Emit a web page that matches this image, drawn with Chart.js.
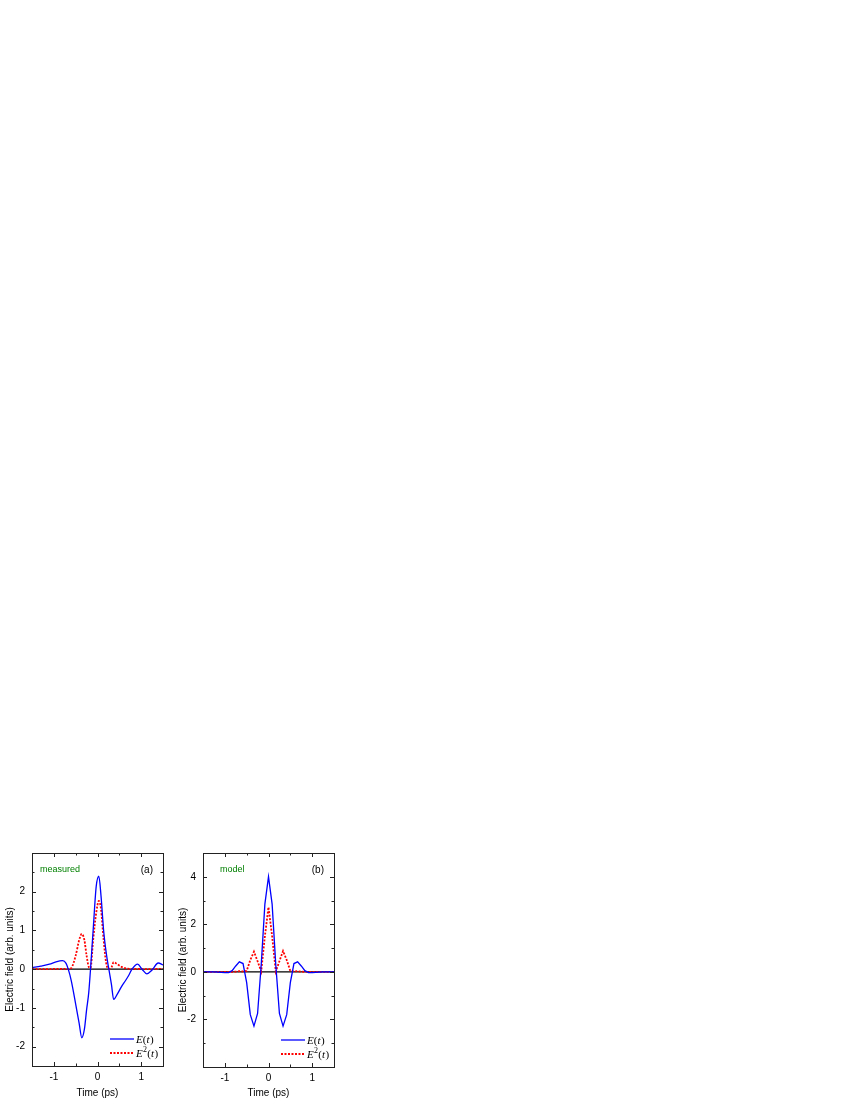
<!DOCTYPE html>
<html>
<head>
<meta charset="utf-8">
<script src="https://cdn.jsdelivr.net/npm/chart.js@4"></script>
<style>
  body { margin: 0; background: #fff; }
  #page { position: relative; width: 850px; height: 1100px; }
  canvas { position: absolute; }
</style>
</head>
<body>
<div id="page">
  <canvas id="panel-a" width="170" height="260" style="left:0;top:840px"></canvas>
  <canvas id="panel-b" width="170" height="260" style="left:170px;top:840px"></canvas>
</div>
<script>
// Panel (a): measured field, time in ps
const timesA = [-1.5, -1.3, -1.1, -0.95, -0.8, -0.72, -0.67, -0.6, -0.5, -0.42, -0.36, -0.3, -0.25, -0.2, -0.16,
  -0.1, -0.03, 0.03, 0.08, 0.14, 0.2, 0.26, 0.32, 0.37, 0.45, 0.55, 0.65, 0.72, 0.79, 0.92, 1.02, 1.13, 1.25, 1.39, 1.5];
const fieldA = [0.04, 0.08, 0.13, 0.19, 0.22, 0.15, 0, -0.3, -0.9, -1.4, -1.77, -1.55, -1.05, -0.6, 0,
  1.0, 2.13, 2.4, 1.9, 1.0, 0.42, 0, -0.4, -0.78, -0.65, -0.45, -0.28, -0.15, 0, 0.13, 0, -0.12, -0.02, 0.16, 0.11];
const squareA = [0, 0, 0, 0.01, 0.01, 0.01, 0, 0.03, 0.35, 0.75, 0.91, 0.75, 0.35, 0.06, 0.03,
  0.75, 1.45, 1.76, 1.55, 0.76, 0.15, 0.01, 0.05, 0.18, 0.13, 0.06, 0.02, 0.01, 0, 0.01, 0, 0, 0, 0.01, 0];

// Panel (b): model field
const timesB = [-1.5, -1.25, -1.0, -0.917, -0.833, -0.75, -0.667, -0.583, -0.5, -0.417, -0.333, -0.25, -0.167, -0.083,
  0, 0.083, 0.167, 0.25, 0.333, 0.417, 0.5, 0.583, 0.667, 0.75, 0.833, 0.917, 1.0, 1.25, 1.5];
const fieldB = [0, 0, -0.03, -0.03, 0.05, 0.25, 0.42, 0.35, -0.45, -1.8, -2.28, -1.75, 0.3, 2.85,
  4.0, 2.85, 0.3, -1.75, -2.28, -1.8, -0.45, 0.35, 0.42, 0.25, 0.05, -0.03, -0.03, 0, 0];
const squareB = [0, 0, 0, 0, 0, 0.01, 0.03, 0.02, 0.04, 0.5, 0.85, 0.45, 0.02, 1.5,
  2.72, 1.5, 0.02, 0.45, 0.88, 0.5, 0.04, 0.02, 0.03, 0.01, 0, 0, 0, 0, 0];

const BLUE = '#0000ff';
const RED = '#ff0000';
const GREEN = '#008000';
const FONT = '"Liberation Sans", Arial, sans-serif';
const SERIF = '"Liberation Serif", "Times New Roman", serif';

function isMajor(v, step) {
  const q = v / step;
  return Math.abs(q - Math.round(q)) < 1e-6;
}

// Zero line, boxed frame with inward ticks, panel tags and legend
const framePlugin = {
  id: 'frame',
  beforeDatasetsDraw(chart) {
    const { ctx, chartArea: a, scales: { y } } = chart;
    const y0 = y.getPixelForValue(0);
    ctx.save();
    ctx.strokeStyle = '#000';
    ctx.lineWidth = 1.2;
    ctx.beginPath();
    ctx.moveTo(a.left, y0);
    ctx.lineTo(a.right, y0);
    ctx.stroke();
    ctx.restore();
  },
  afterDraw(chart, args, opts) {
    const { ctx, chartArea: a, scales: { x, y } } = chart;
    ctx.save();
    ctx.strokeStyle = '#222';
    ctx.lineWidth = 1;
    ctx.strokeRect(Math.round(a.left) + 0.5, Math.round(a.top) + 0.5,
      Math.round(a.right - a.left), Math.round(a.bottom - a.top));

    ctx.beginPath();
    x.ticks.forEach(t => {
      const px = Math.round(x.getPixelForValue(t.value)) + 0.5;
      const len = isMajor(t.value, 1) ? 4 : 2.5;
      ctx.moveTo(px, a.bottom); ctx.lineTo(px, a.bottom - len);
      ctx.moveTo(px, a.top); ctx.lineTo(px, a.top + len);
    });
    y.ticks.forEach(t => {
      const py = Math.round(y.getPixelForValue(t.value)) + 0.5;
      const len = isMajor(t.value, opts.yMajor) ? 4 : 2.5;
      ctx.moveTo(a.left, py); ctx.lineTo(a.left + len, py);
      ctx.moveTo(a.right, py); ctx.lineTo(a.right - len, py);
    });
    ctx.stroke();

    // panel tags
    ctx.textBaseline = 'middle';
    ctx.fillStyle = GREEN;
    ctx.font = '9px ' + FONT;
    ctx.textAlign = 'left';
    ctx.fillText(opts.label, a.left + opts.labelOffset, a.top + 17);
    ctx.fillStyle = '#000';
    ctx.font = '10px ' + FONT;
    ctx.textAlign = 'right';
    ctx.fillText(opts.tag, a.right - 10, a.top + 17);

    // legend
    const lx0 = a.right - 53, lx1 = a.right - 29, tx = a.right - 27;
    const rows = [
      { y: a.bottom - 27, color: BLUE, dash: [], width: 1.3, sup: '' },
      { y: a.bottom - 13, color: RED, dash: [2, 1.5], width: 1.8, sup: '2' }
    ];
    rows.forEach(r => {
      ctx.strokeStyle = r.color;
      ctx.lineWidth = r.width;
      ctx.setLineDash(r.dash);
      ctx.beginPath();
      ctx.moveTo(lx0, r.y);
      ctx.lineTo(lx1, r.y);
      ctx.stroke();
      ctx.setLineDash([]);
      ctx.fillStyle = '#000';
      ctx.textAlign = 'left';
      ctx.textBaseline = 'alphabetic';
      const base = r.y + 4;
      let cx = tx;
      ctx.font = 'italic 11px ' + SERIF;
      ctx.fillText('E', cx, base);
      cx += ctx.measureText('E').width;
      if (r.sup) {
        ctx.font = '8px ' + SERIF;
        ctx.fillText(r.sup, cx + 0.3, base - 5);
        cx += ctx.measureText(r.sup).width + 0.5;
      }
      ctx.font = '11px ' + SERIF;
      ctx.fillText('(', cx, base);
      cx += ctx.measureText('(').width;
      ctx.font = 'italic 11px ' + SERIF;
      ctx.fillText('t', cx, base);
      cx += ctx.measureText('t').width + 0.5;
      ctx.font = '11px ' + SERIF;
      ctx.fillText(')', cx, base);
    });
    ctx.restore();
  }
};

function makePanel(id, times, field, square, cfg) {
  const pts = vals => times.map((t, i) => ({ x: t, y: vals[i] }));
  return new Chart(document.getElementById(id), {
    type: 'line',
    data: {
      datasets: [
        {
          label: 'E(t)',
          data: pts(field),
          borderColor: BLUE,
          borderWidth: 1.3,
          pointRadius: 0,
          tension: cfg.tension,
          cubicInterpolationMode: cfg.tension ? 'monotone' : 'default'
        },
        {
          label: 'E²(t)',
          data: pts(square),
          borderColor: RED,
          borderWidth: 1.8,
          borderDash: [2, 1.5],
          pointRadius: 0,
          tension: cfg.tension,
          cubicInterpolationMode: cfg.tension ? 'monotone' : 'default'
        }
      ]
    },
    options: {
      responsive: false,
      animation: false,
      events: [],
      layout: { padding: { top: 9, right: cfg.padRight, left: 0, bottom: 0 } },
      plugins: {
        legend: { display: false },
        tooltip: { enabled: false },
        frame: { tag: cfg.tag, label: cfg.label, labelOffset: cfg.labelOffset, yMajor: cfg.yMajor }
      },
      scales: {
        x: {
          type: 'linear',
          min: -1.5,
          max: 1.5,
          grid: { display: false, drawTicks: false },
          border: { display: false },
          ticks: {
            stepSize: 0.5,
            padding: 5,
            maxRotation: 0,
            autoSkip: false,
            color: '#000',
            font: { size: 10, family: FONT },
            callback: v => isMajor(v, 1) ? String(Math.round(v)) : ''
          },
          title: {
            display: true,
            text: 'Time (ps)',
            color: '#000',
            font: { size: 10, family: FONT },
            padding: { top: 0, bottom: 1 }
          },
          afterFit: s => { s.height = cfg.xHeight; }
        },
        y: {
          min: cfg.yMin,
          max: cfg.yMax,
          grid: { display: false, drawTicks: false },
          border: { display: false },
          ticks: {
            stepSize: cfg.yStep,
            padding: 7,
            autoSkip: false,
            color: '#000',
            font: { size: 10, family: FONT },
            // no labels on the frame edges
            callback: v => (isMajor(v, cfg.yMajor) && v > cfg.yMin && v < cfg.yMax) ? String(Math.round(v)) : ''
          },
          title: {
            display: true,
            text: 'Electric field (arb. units)',
            color: '#000',
            font: { size: 10, family: FONT },
            padding: { top: cfg.titlePad, bottom: 0 }
          },
          afterFit: s => { s.width = cfg.yWidth; }
        }
      }
    },
    plugins: [framePlugin]
  });
}

makePanel('panel-a', timesA, fieldA, squareA, {
  tag: '(a)', label: 'measured', labelOffset: 8, tension: 0.35,
  yMin: -2.5, yMax: 3, yStep: 0.5, yMajor: 1,
  yWidth: 32, padRight: 7, xHeight: 34, titlePad: 4
});

makePanel('panel-b', timesB, fieldB, squareB, {
  tag: '(b)', label: 'model', labelOffset: 17, tension: 0,
  yMin: -4, yMax: 5, yStep: 1, yMajor: 2,
  yWidth: 33, padRight: 6, xHeight: 33, titlePad: 7
});
</script>
</body>
</html>
